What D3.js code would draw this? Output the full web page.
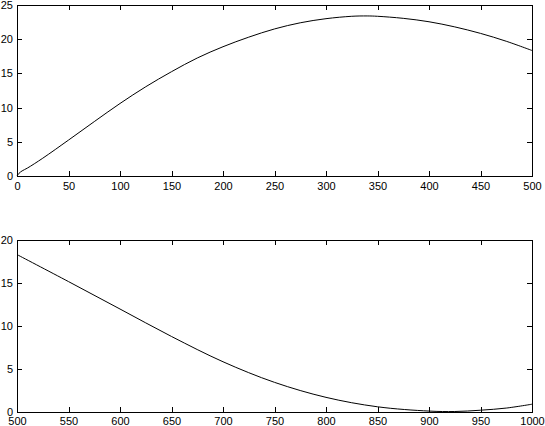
<!DOCTYPE html>
<html>
<head>
<meta charset="utf-8">
<script src="https://cdn.jsdelivr.net/npm/d3@7"></script>
<style>
  body { margin: 0; background: #fff; }
  svg { display: block; }
  .axis text { font-family: "Liberation Sans", Arial, Helvetica, sans-serif; font-size: 11px; fill: #000; }
  .axis path, .axis line { stroke: #000; shape-rendering: crispEdges; }
  .curve { fill: none; stroke: #000; stroke-width: 1; }
</style>
</head>
<body>
<svg id="chart" width="545" height="426"></svg>
<script>
// top panel (0..500)
var topT = [0, 2, 5, 10, 25, 50, 75, 100, 125, 150, 175, 200, 225, 250, 275, 300, 325, 340, 350, 375, 400, 425, 450, 475, 500];
var topV = [0, 0.4, 0.75, 1.15, 2.6, 5.25, 7.95, 10.6, 13.05, 15.25, 17.25, 18.9, 20.3, 21.5, 22.4, 23.0, 23.35, 23.4, 23.35, 23.05, 22.55, 21.8, 20.85, 19.7, 18.35];
var topXTicks = [0, 50, 100, 150, 200, 250, 300, 350, 400, 450, 500];
var topYTicks = [0, 5, 10, 15, 20, 25];

// bottom panel (500..1000)
var botT = [500, 550, 600, 650, 700, 750, 800, 850, 900, 925, 950, 975, 1000];
var botV = [18.3, 15.15, 11.95, 8.75, 5.8, 3.4, 1.65, 0.55, 0.05, 0.0, 0.15, 0.4, 0.85];
var botXTicks = [500, 550, 600, 650, 700, 750, 800, 850, 900, 950, 1000];
var botYTicks = [0, 5, 10, 15, 20];

var svg = d3.select("#chart");
var fmt = d3.format("d");

function panel(box, xDom, yDom, xTicks, yTicks, ts, vs) {
  var x = d3.scaleLinear().domain(xDom).range([box.left, box.right]),
      y = d3.scaleLinear().domain(yDom).range([box.bottom, box.top]);

  var g = svg.append("g");

  g.append("g")
      .attr("class", "axis")
      .attr("transform", "translate(0," + box.top + ")")
      .call(d3.axisTop(x).tickValues(xTicks).tickSizeInner(-5).tickSizeOuter(0).tickFormat(""));

  g.append("g")
      .attr("class", "axis")
      .attr("transform", "translate(" + box.right + ",0)")
      .call(d3.axisRight(y).tickValues(yTicks).tickSizeInner(-5).tickSizeOuter(0).tickFormat(""));

  g.append("g")
      .attr("class", "axis")
      .attr("transform", "translate(0," + box.bottom + ")")
      .call(d3.axisBottom(x).tickValues(xTicks).tickSizeInner(-5).tickSizeOuter(0).tickPadding(6).tickFormat(fmt));

  g.append("g")
      .attr("class", "axis")
      .attr("transform", "translate(" + box.left + ",0)")
      .call(d3.axisLeft(y).tickValues(yTicks).tickSizeInner(-5).tickSizeOuter(0).tickPadding(4).tickFormat(fmt));

  var pts = ts.map(function(t, i) { return [t, vs[i]]; });
  var line = d3.line()
      .x(function(d) { return x(d[0]); })
      .y(function(d) { return y(d[1]); })
      .curve(d3.curveCatmullRom.alpha(0.5));

  g.append("path")
      .attr("class", "curve")
      .attr("d", line(pts));
}

panel({left: 17, right: 532, top: 5, bottom: 176}, [0, 500], [0, 25], topXTicks, topYTicks, topT, topV);
panel({left: 17, right: 532, top: 240, bottom: 411.5}, [500, 1000], [0, 20], botXTicks, botYTicks, botT, botV);
</script>
</body>
</html>
